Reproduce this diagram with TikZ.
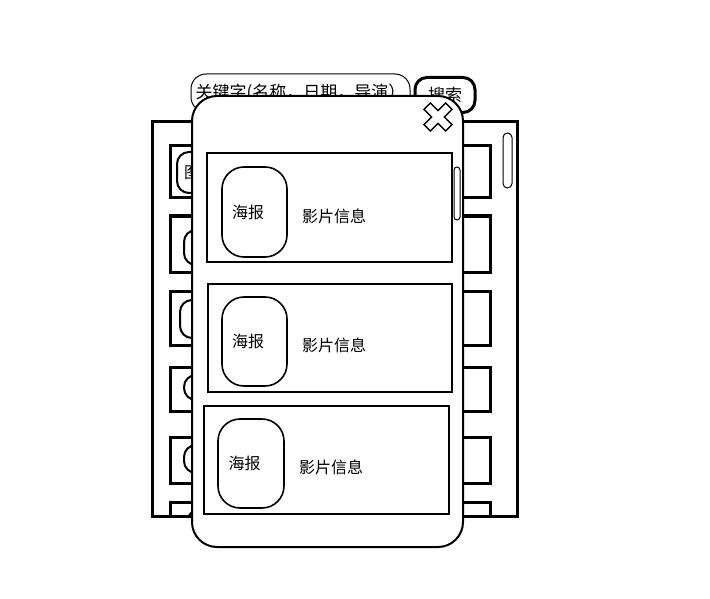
\documentclass[tikz,border=0pt]{standalone}
\usepackage{fontspec}
\newfontfamily\cjk{Noto Sans CJK SC}
\usetikzlibrary{positioning}
\begin{document}
\begin{tikzpicture}[x=1pt, y=-1pt,
        every node/.style={font=\cjk\fontsize{16}{19}\selectfont, inner sep=0pt, outer sep=0pt},
        rowbox/.style={draw, line width=3pt, minimum width=320pt, anchor=north west},
        bgposter/.style={draw, line width=2pt, rounded corners=12pt, minimum width=60pt, anchor=north west},
        card/.style={draw, line width=2pt, minimum height=108pt, anchor=north west},
        poster/.style={draw, line width=1.6pt, rounded corners=22pt, minimum width=65pt, minimum height=89pt,
          text width=45pt, align=left, anchor=north west},
        info/.style={right=15pt of #1, yshift=-4pt}]
    \useasboundingbox (0,0) rectangle (710,599);
    % search bar
    \node[draw, line width=1pt, rounded corners=15pt, minimum width=219pt, minimum height=38pt,
      anchor=north west, font=\cjk\fontsize{17}{20}\selectfont] (keyword) at (191,74) {关键字(名称，日期，导演）};
    \node[draw, line width=3pt, rounded corners=12pt, minimum width=60pt, minimum height=35pt,
      font=\cjk\fontsize{17}{20}\selectfont, right=5pt of keyword, yshift=-2pt] (search) {搜索};
    % list behind the popup
    \node[draw, line width=3pt, minimum width=365pt, minimum height=394pt, anchor=north west] (list) at (152,122) {};
    \begin{scope}
      \clip (list.north west) rectangle (list.south east);
      \node[rowbox, minimum height=52pt] (row1) at (170,146) {};
      \node[rowbox, minimum height=56pt] (row2) at (170,216) {};
      \node[rowbox, minimum height=54pt] (row3) at (170,291) {};
      \node[rowbox, minimum height=44pt] (row4) at (170,367) {};
      \node[rowbox, minimum height=46pt] (row5) at (170,437) {};
      \node[rowbox, minimum height=40pt] (row6) at (170,502) {};
      \node[bgposter, minimum height=41pt, text width=46pt, align=left] (bp1) at (177,152) {图片};
      \node[bgposter, minimum height=35pt] (bp2) at (184,230) {};
      \node[bgposter, minimum height=38pt] (bp3) at (180,300) {};
      \node[bgposter, minimum height=25pt] (bp4) at (184,375) {};
      \node[bgposter, minimum height=28pt] (bp5) at (184,445) {};
      \node[bgposter, minimum height=30pt] (bp6) at (187,510) {};
    \end{scope}
    \node[draw, line width=1pt, rounded corners=4.5pt, minimum width=9pt, minimum height=55pt,
      anchor=north west] (listbar) at (503,133) {};
    % popup
    \node[draw, fill=white, line width=2pt, rounded corners=25pt, minimum width=271pt, minimum height=451pt,
      anchor=north west] (popup) at (192,96) {};
    \coordinate (close) at (438,117);
    \begin{scope}[shift={(close)}, rotate=45]
      \draw[line width=1.5pt, fill=white] (4.5,4.5) -- (15.3,4.5) -- (15.3,-4.5) -- (4.5,-4.5) -- (4.5,-15.3)
        -- (-4.5,-15.3) -- (-4.5,-4.5) -- (-15.3,-4.5) -- (-15.3,4.5) -- (-4.5,4.5) -- (-4.5,15.3)
        -- (4.5,15.3) -- cycle;
    \end{scope}
    \node[draw, line width=1pt, rounded corners=3pt, minimum width=6pt, minimum height=53pt,
      anchor=north west] (popbar) at (454,167) {};
    \node[card, minimum width=245pt, minimum height=109pt] (card1) at (207,153) {};
    \node[card, minimum width=244pt] (card2) at (208,284) {};
    \node[card, minimum width=245pt] (card3) at (204,406) {};
    \node[poster, minimum height=90pt] (poster1) at (222,167) {海报};
    \node[poster] (poster2) at (222,297) {海报};
    \node[poster, minimum width=66pt] (poster3) at (218,419) {海报};
    \node[info=poster1] (info1) {影片信息};
    \node[info=poster2] (info2) {影片信息};
    \node[info=poster3] (info3) {影片信息};
\end{tikzpicture}
\end{document}
